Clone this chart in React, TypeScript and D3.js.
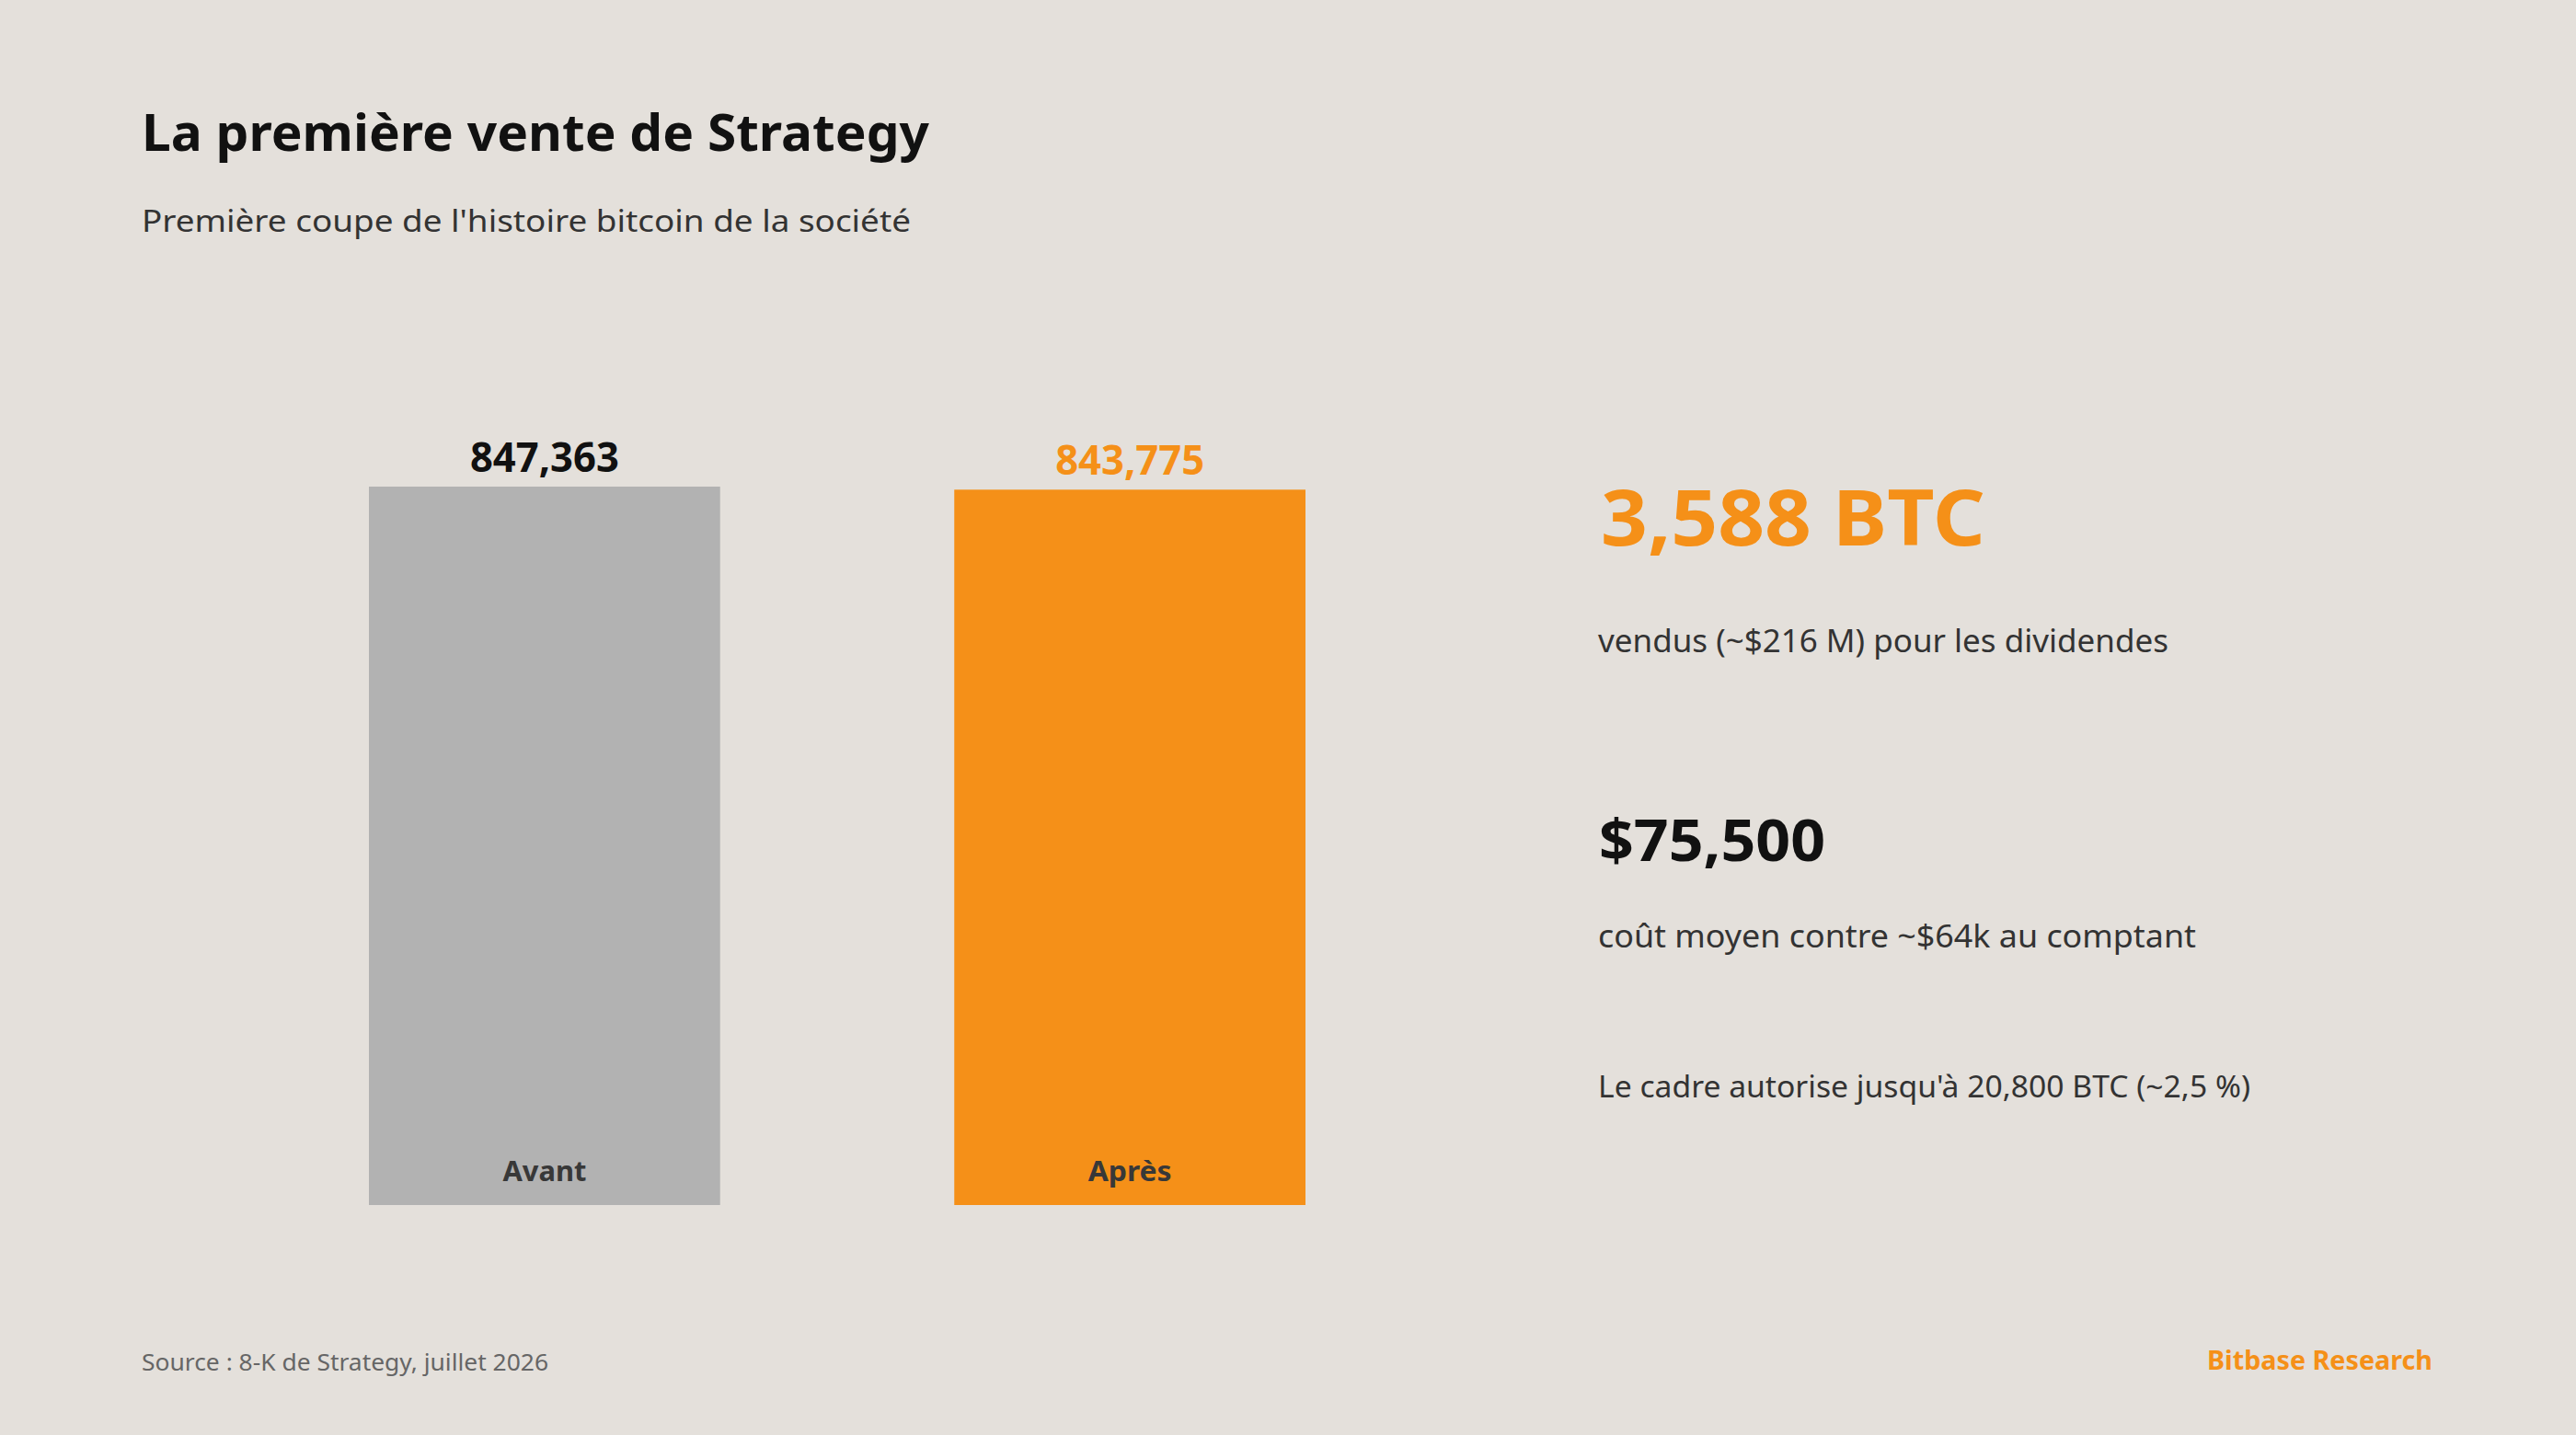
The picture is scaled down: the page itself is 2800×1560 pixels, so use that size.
import * as React from 'react';
import * as d3 from 'd3';

// holdings before / after the sale
const categories = ['Avant', 'Après'];
const holdings = [847363, 843775];
const barColors = ['#b2b2b2', '#f59018'];
const valueColors = ['#111111', '#f59018'];

// key figures on the right
const statHeadlines = ['3,588 BTC', '$75,500'];
const statHeadlineColors = ['#f59018', '#111111'];
const statNotes = [
    'vendus (~$216 M) pour les dividendes',
    'coût moyen contre ~$64k au comptant',
];
const footNote = "Le cadre autorise jusqu'à 20,800 BTC (~2,5 %)";

const title = 'La première vente de Strategy';
const subtitle = "Première coupe de l'histoire bitcoin de la société";
const source = 'Source : 8-K de Strategy, juillet 2026';
const brand = 'Bitbase Research';

const W = 2800;
const H = 1560;
const font = '"Noto Sans", "Open Sans", sans-serif';

const App: React.FunctionComponent = () => {
    React.useEffect(() => {
        document.body.style.margin = '0';
        document.body.style.background = '#e4e0db';
    }, []);

    const x = d3.scaleBand<string>()
        .domain(categories)
        .range([401, 1419])
        .paddingInner(0.4)
        .paddingOuter(0);
    const y = d3.scaleLinear()
        .domain([0, d3.max(holdings) as number])
        .range([1310, 529]);
    const fmt = d3.format(',');

    return (
        <svg width={W} height={H} style={{ display: 'block', fontFamily: font }}>
            <rect width={W} height={H} fill="#e4e0db" />

            <text x={154} y={164} fontSize={55} fontWeight={700} fill="#111111"
                textLength={856} lengthAdjust="spacingAndGlyphs">{title}</text>
            <text x={154} y={252} fontSize={33} fill="#333333"
                textLength={836} lengthAdjust="spacingAndGlyphs">{subtitle}</text>

            <g className="bars">
                {categories.map((c, i) => {
                    const bx = x(c) as number;
                    const cx = bx + x.bandwidth() / 2;
                    return (
                        <g key={c}>
                            <rect x={bx} y={y(holdings[i])} width={x.bandwidth()}
                                height={y(0) - y(holdings[i])} fill={barColors[i]} />
                            <text x={cx} y={y(holdings[i]) - 16} textAnchor="middle"
                                fontSize={44} fontWeight={700} fill={valueColors[i]}
                                textLength={162} lengthAdjust="spacingAndGlyphs">
                                {fmt(holdings[i])}
                            </text>
                            <text x={cx} y={y(0) - 26} textAnchor="middle"
                                fontSize={31} fontWeight={700} fill="#383838"
                                textLength={91} lengthAdjust="spacingAndGlyphs">
                                {c}
                            </text>
                        </g>
                    );
                })}
            </g>

            <text x={1740} y={593} fontSize={84} fontWeight={700} fill={statHeadlineColors[0]}
                textLength={418} lengthAdjust="spacingAndGlyphs">{statHeadlines[0]}</text>
            <text x={1737} y={709} fontSize={35} fill="#333333"
                textLength={620} lengthAdjust="spacingAndGlyphs">{statNotes[0]}</text>

            <text x={1738} y={936} fontSize={63} fontWeight={700} fill={statHeadlineColors[1]}
                textLength={246} lengthAdjust="spacingAndGlyphs">{statHeadlines[1]}</text>
            <text x={1737} y={1030} fontSize={35} fill="#333333"
                textLength={650} lengthAdjust="spacingAndGlyphs">{statNotes[1]}</text>

            <text x={1737} y={1193} fontSize={33} fill="#333333"
                textLength={709} lengthAdjust="spacingAndGlyphs">{footNote}</text>

            <text x={154} y={1490} fontSize={25} fill="#666666"
                textLength={442} lengthAdjust="spacingAndGlyphs">{source}</text>
            <text x={2399} y={1489} fontSize={28} fontWeight={700} fill="#f59018"
                textLength={245} lengthAdjust="spacingAndGlyphs">{brand}</text>
        </svg>
    );
};

export default App;
